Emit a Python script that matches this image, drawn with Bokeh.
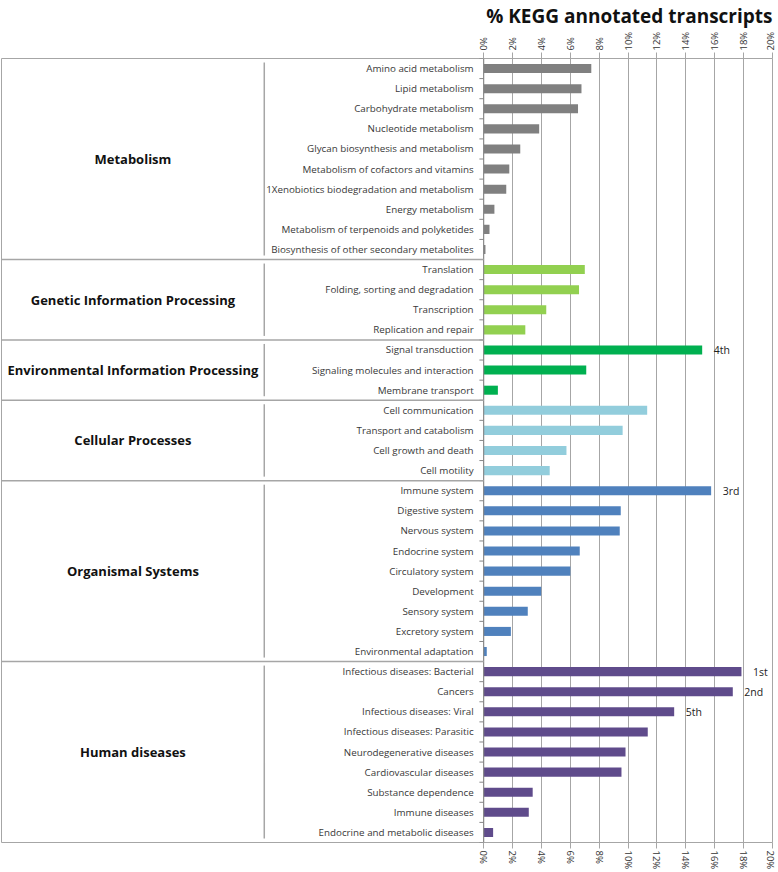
import math
from bokeh.plotting import figure
from bokeh.models import Range1d, LinearAxis, FixedTicker, CustomJSTickFormatter, ColumnDataSource
from bokeh.core.properties import value
from bokeh.embed import file_html
from bokeh.resources import INLINE

# ---------------- data ----------------
groups = ["Metabolism", "Genetic Information Processing",
          "Environmental Information Processing", "Cellular Processes",
          "Organismal Systems", "Human diseases"]

metabolism_cats = ["Amino acid metabolism", "Lipid metabolism", "Carbohydrate metabolism",
                   "Nucleotide metabolism", "Glycan biosynthesis and metabolism",
                   "Metabolism of cofactors and vitamins",
                   "1Xenobiotics biodegradation and metabolism", "Energy metabolism",
                   "Metabolism of terpenoids and polyketides",
                   "Biosynthesis of other secondary metabolites"]
metabolism_vals = [7.45, 6.77, 6.53, 3.84, 2.53, 1.77, 1.56, 0.74, 0.40, 0.12]

genetic_cats = ["Translation", "Folding, sorting and degradation", "Transcription",
                "Replication and repair"]
genetic_vals = [7.0, 6.6, 4.33, 2.88]

environmental_cats = ["Signal transduction", "Signaling molecules and interaction",
                      "Membrane transport"]
environmental_vals = [15.13, 7.1, 0.98]

cellular_cats = ["Cell communication", "Transport and catabolism", "Cell growth and death",
                 "Cell motility"]
cellular_vals = [11.32, 9.62, 5.73, 4.57]

organismal_cats = ["Immune system", "Digestive system", "Nervous system", "Endocrine system",
                   "Circulatory system", "Development", "Sensory system", "Excretory system",
                   "Environmental adaptation"]
organismal_vals = [15.75, 9.49, 9.42, 6.65, 6.0, 3.98, 3.05, 1.88, 0.21]

human_cats = ["Infectious diseases: Bacterial", "Cancers", "Infectious diseases: Viral",
              "Infectious diseases: Parasitic", "Neurodegenerative diseases",
              "Cardiovascular diseases", "Substance dependence", "Immune diseases",
              "Endocrine and metabolic diseases"]
human_vals = [17.85, 17.25, 13.19, 11.36, 9.82, 9.54, 3.39, 3.12, 0.65]

group_colors = ["#808080", "#92d050", "#00b050", "#92cddc", "#4f81bd", "#5f4b8b"]

rank_labels = {"Infectious diseases: Bacterial": "1st", "Cancers": "2nd",
               "Immune system": "3rd", "Signal transduction": "4th",
               "Infectious diseases: Viral": "5th"}

x_ticks = [0, 2, 4, 6, 8, 10, 12, 14, 16, 18, 20]

# ---------------- build ----------------
group_cats = [metabolism_cats, genetic_cats, environmental_cats, cellular_cats,
              organismal_cats, human_cats]
group_vals = [metabolism_vals, genetic_vals, environmental_vals, cellular_vals,
              organismal_vals, human_vals]

cats, vals, colors, rows = [], [], [], []
group_start, group_end = [], []
r = 0
for gi, (cs, vs) in enumerate(zip(group_cats, group_vals)):
    group_start.append(r)
    for c, v in zip(cs, vs):
        cats.append(c)
        vals.append(v)
        colors.append(group_colors[gi])
        rows.append(r + 0.5)
        r += 1
    group_end.append(r)
n_rows = r

X_MIN, X_MAX = -33.4, 20.0
FONT = "Open Sans"
LINE = "#a6a6a6"

p = figure(width=776, height=872, output_backend="svg", toolbar_location=None,
           x_range=Range1d(X_MIN, X_MAX), y_range=Range1d(n_rows, 0),
           x_axis_location="above", y_axis_location=None,
           min_border_left=1, min_border_right=4, min_border_top=0, min_border_bottom=0)

p.title.text = "% KEGG annotated transcripts"
p.title.align = "right"
p.title.text_font = FONT
p.title.text_font_size = "19px"
p.title.text_font_style = "bold"
p.title.text_color = "#111111"
p.title.standoff = 0
p.title.text_line_height = 0.8

fmt = CustomJSTickFormatter(code="return tick + '%'")
bottom_axis = LinearAxis()
p.add_layout(bottom_axis, "below")
for ax in p.xaxis:
    ax.ticker = FixedTicker(ticks=x_ticks)
    ax.formatter = fmt
    ax.axis_line_color = None
    ax.major_tick_line_color = LINE
    ax.major_tick_out = 6
    ax.major_tick_in = 0
    ax.minor_tick_line_color = None
    ax.major_label_orientation = "vertical"
    ax.major_label_text_font = FONT
    ax.major_label_text_font_size = "9.5px"
    ax.major_label_text_color = "#333333"
    ax.major_label_standoff = 2

p.xgrid.ticker = FixedTicker(ticks=x_ticks)
p.xgrid.grid_line_color = LINE
p.ygrid.visible = False
p.outline_line_color = LINE
p.outline_line_width = 1
p.background_fill_color = "white"
p.border_fill_color = "white"

# bars
src = ColumnDataSource(dict(y=rows, right=vals, color=colors, cat=cats))
p.hbar(y="y", left=0, right="right", height=0.45, fill_color="color",
       line_color=None, source=src)

# y axis line & ticks at row boundaries
p.segment(x0=0, y0=0, x1=0, y1=n_rows, line_color="#868686", line_width=1)
bounds = list(range(n_rows + 1))
p.segment(x0=-0.3, y0=bounds, x1=0, y1=bounds, line_color="#868686", line_width=1)

# category labels
p.text(x=-0.7, y="y", text="cat", source=src, text_align="right",
       text_baseline="middle", text_font=value(FONT), text_font_size="9.8px",
       text_color="#383838")

# group separators (left panel only)
seps = group_end[:-1]
p.segment(x0=X_MIN, y0=seps, x1=0, y1=seps, line_color=LINE, line_width=1.5)

# inner vertical lines for each group
p.segment(x0=-15.2, y0=[s + 0.2 for s in group_start], x1=-15.2,
          y1=[e - 0.2 for e in group_end], line_color=LINE, line_width=1.5)

# group labels
p.text(x=-24.3, y=[(s + e) / 2 for s, e in zip(group_start, group_end)], text=groups,
       text_align="center", text_baseline="middle", text_font=value(FONT),
       text_font_size="13px", text_font_style="bold", text_color="#111111")

# rank annotations
rk_x, rk_y, rk_t = [], [], []
for c, v, y in zip(cats, vals, rows):
    if c in rank_labels:
        rk_x.append(v + 0.8)
        rk_y.append(y)
        rk_t.append(rank_labels[c])
p.text(x=rk_x, y=rk_y, text=rk_t, text_align="left", text_baseline="middle",
       text_font=value(FONT), text_font_size="10.5px", text_color="#222222")

open("out.html", "w").write(file_html(p, INLINE))
